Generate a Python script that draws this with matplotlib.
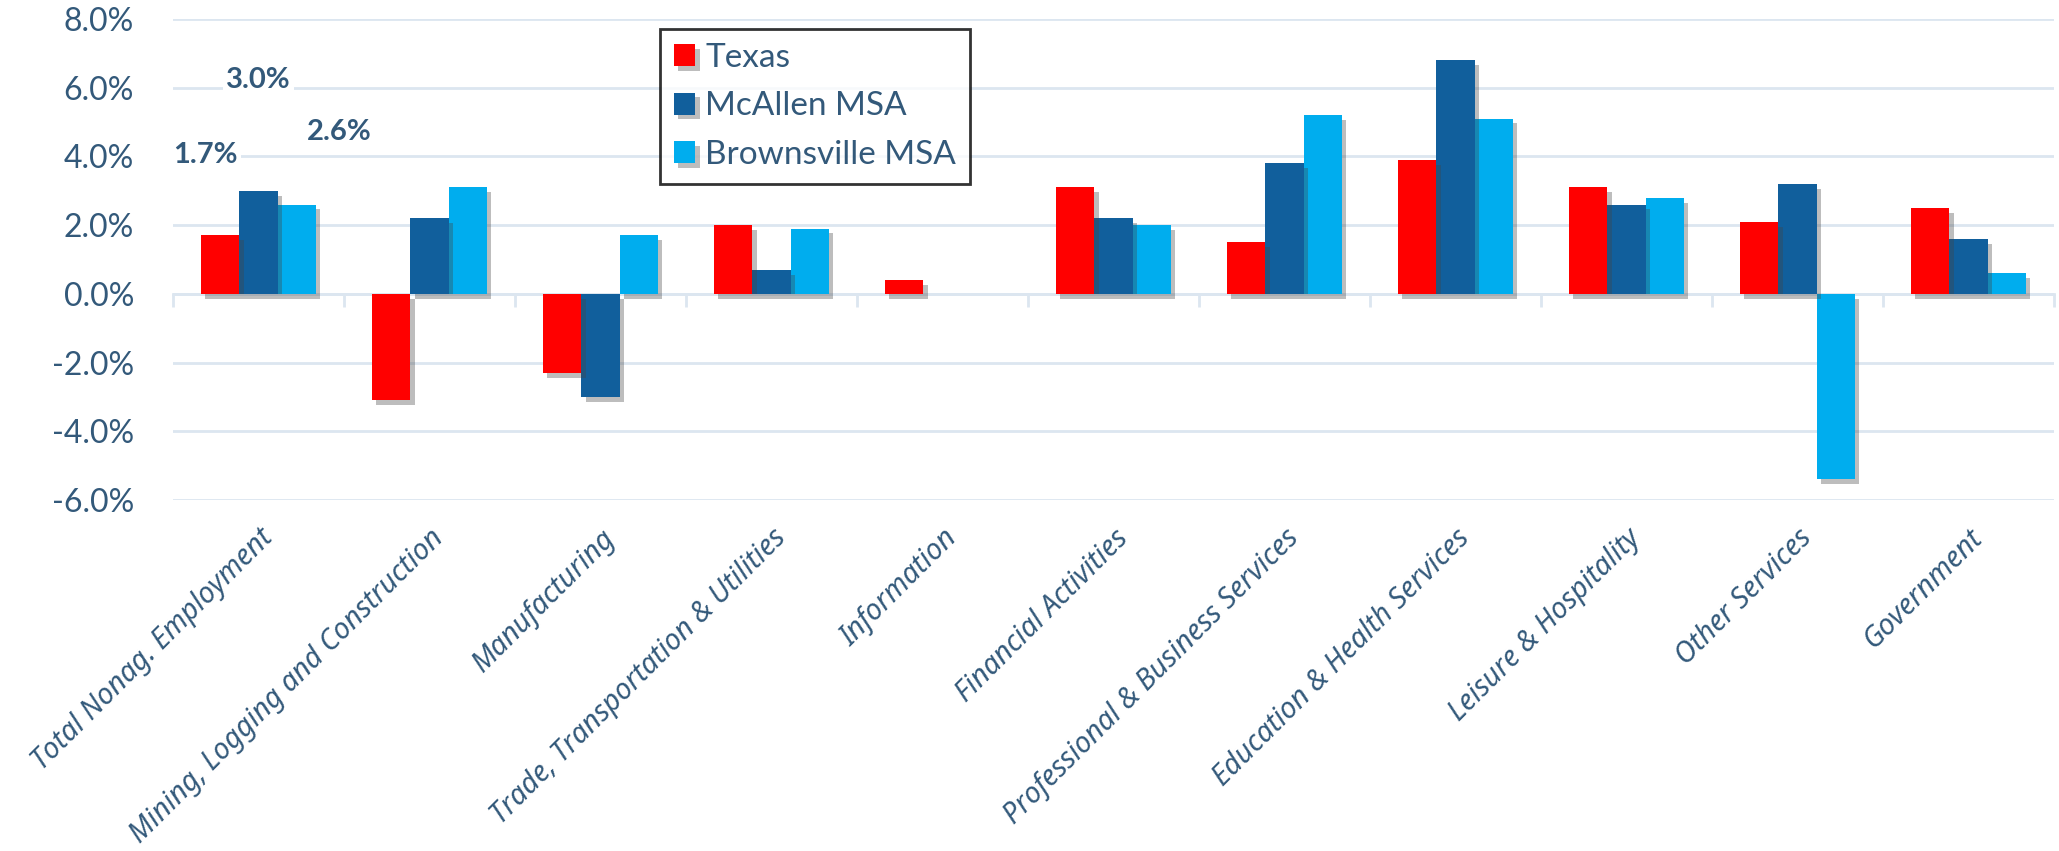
import matplotlib
matplotlib.use("Agg")
import matplotlib.pyplot as plt
import matplotlib.patheffects as pe
import numpy as np

categories = ["Total Nonag. Employment", "Mining, Logging and Construction", "Manufacturing",
              "Trade, Transportation & Utilities", "Information", "Financial Activities",
              "Professional & Business Services", "Education & Health Services",
              "Leisure & Hospitality", "Other Services", "Government"]
texas = [1.7, -3.1, -2.3, 2.0, 0.4, 3.1, 1.5, 3.9, 3.1, 2.1, 2.5]
mcallen = [3.0, 2.2, -3.0, 0.7, 0.0, 2.2, 3.8, 6.8, 2.6, 3.2, 1.6]
brownsville = [2.6, 3.1, 1.7, 1.9, 0.0, 2.0, 5.2, 5.1, 2.8, -5.4, 0.6]
series_names = ["Texas", "McAllen MSA", "Brownsville MSA"]
y_ticks = [-6, -4, -2, 0, 2, 4, 6, 8]

colors = ["#FF0000", "#115F9C", "#00ADEE"]
text_color = "#33597A"
grid_color = "#DCE6F0"

W, H = 2059, 851
fig = plt.figure(figsize=(W / 100, H / 100), dpi=100)
ax = fig.add_axes([173 / W, 1 - 500 / H, (2054 - 173) / W, (500 - 19) / H])

x = np.arange(len(categories))
bw = 0.224
shadow = [pe.SimplePatchShadow(offset=(3, -3.5), shadow_rgbFace="#444444", alpha=0.35), pe.Normal()]
series = [texas, mcallen, brownsville]
for i, (vals, c, name) in enumerate(zip(series, colors, series_names)):
    bars = ax.bar(x + (i - 1) * bw, vals, width=bw, color=c, label=name, zorder=3 - i * 0.1 + 0.2 * (i == 0))
    for b in bars:
        b.set_path_effects(shadow)

ax.set_xlim(-0.5, len(categories) - 0.5)
ax.set_ylim(-6, 8)
ax.set_yticks(y_ticks)
ax.set_yticklabels([f"{v:.1f}%" for v in y_ticks], fontsize=23, color=text_color, family="Lato")
ax.tick_params(axis="y", length=0, pad=28)
ax.yaxis.grid(True, color=grid_color, linewidth=2)
ax.set_axisbelow(True)
for s in ax.spines.values():
    s.set_visible(False)

ax.set_xticks(x)
ax.set_xticklabels(categories, rotation=45, ha="right", va="top", rotation_mode="anchor",
                   fontsize=20.5, color=text_color, family="Noto Sans", style="italic")
ax.tick_params(axis="x", length=0, pad=17)

# zero axis line with category boundary ticks
sec = ax.secondary_xaxis(6 / 14)
sec.set_xticks(np.arange(len(categories) + 1) - 0.5)
sec.set_xticklabels([])
sec.tick_params(axis="x", direction="out", length=9, width=2, color=grid_color)
sec.spines["bottom"].set_color(grid_color)
sec.spines["bottom"].set_linewidth(2)

# data labels for first group
label_pos = [(-0.31, 4.05), (0.0, 6.23), (0.47, 4.7)]
for vals, (lx, ly) in zip(series, label_pos):
    ax.text(lx, ly, f"{vals[0]:.1f}%", ha="center", va="center", fontsize=21, fontweight="bold",
            color=text_color, family="Lato", zorder=5,
            bbox=dict(facecolor="white", edgecolor="none", pad=2))

leg = ax.legend(loc="upper left", bbox_to_anchor=(660 / W, 1 - 29 / H), bbox_transform=fig.transFigure,
                borderaxespad=0, fancybox=False, frameon=True, edgecolor="black",
                handlelength=0.64, handleheight=0.64, handletextpad=0.3, labelspacing=0.55,
                borderpad=0.42, prop={"family": "Lato", "size": 24})
leg.get_frame().set_linewidth(2)
for t in leg.get_texts():
    t.set_color(text_color)

fig.savefig("out.png", dpi=100, facecolor="white")
